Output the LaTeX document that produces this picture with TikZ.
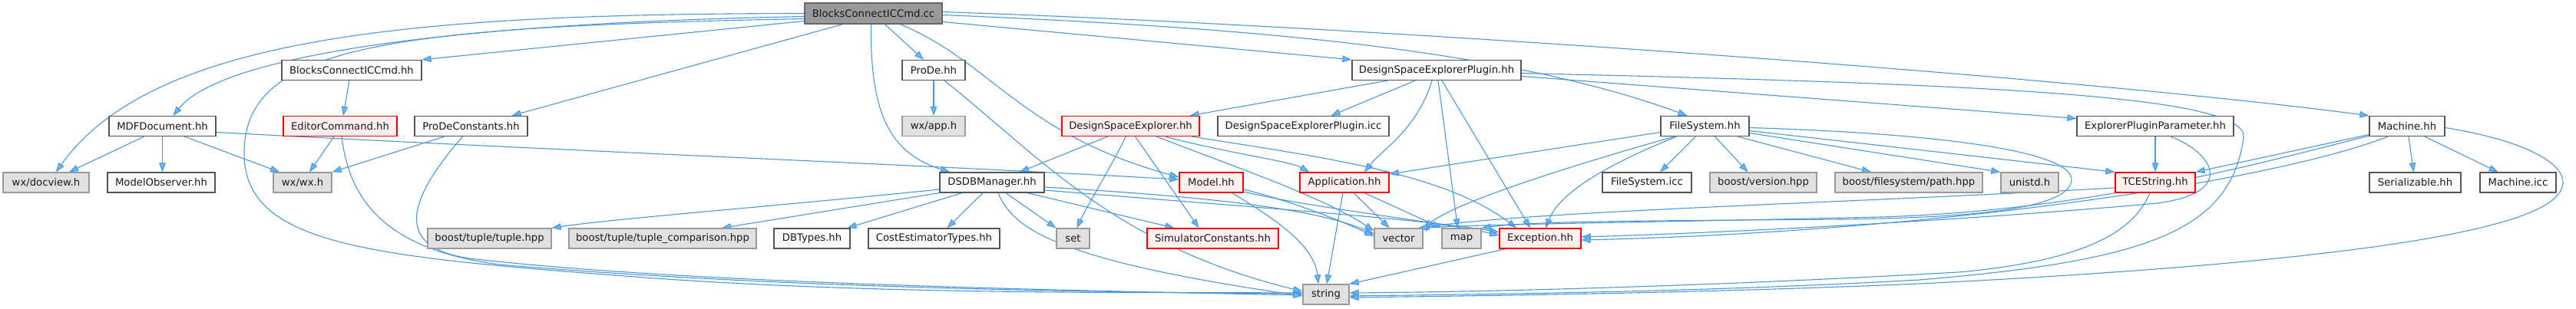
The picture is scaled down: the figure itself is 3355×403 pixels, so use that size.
\documentclass[tikz,border=0pt]{standalone}
\usepackage{fontspec}
\setmainfont{DejaVu Sans}
\usetikzlibrary{arrows.meta,backgrounds}
\definecolor{edgec}{HTML}{4A98DC}
\definecolor{arrowc}{HTML}{63B8FF}
\definecolor{wfill}{HTML}{FAFCFA}
\definecolor{wdraw}{HTML}{555555}
\definecolor{gfill}{HTML}{E0E0E0}
\definecolor{gdraw}{HTML}{999999}
\definecolor{rfill}{HTML}{FFF0F0}
\definecolor{rdraw}{HTML}{FF0000}
\definecolor{rootfill}{HTML}{999999}
\definecolor{rootdraw}{HTML}{666666}
\begin{document}
\begin{tikzpicture}[x=1pt,y=-1pt,
  nd/.style={draw=wdraw,fill=wfill,line width=1.3pt,minimum height=26pt,inner sep=0pt,
    font=\fontsize{13.2}{15}\selectfont,text=black!90},
  ndext/.style={nd,draw=gdraw,fill=gfill},
  ndtr/.style={nd,draw=rdraw,fill=rfill},
  ndroot/.style={nd,draw=rootdraw,fill=rootfill,minimum height=27pt},
  dep/.style={draw=edgec,line width=1.1pt,-{Triangle[length=12pt,width=8.5pt,fill=arrowc]}}
]
\path[use as bounding box] (0,0) rectangle (3355,403);
% nodes
\node[ndroot,minimum width=179pt] (root) at (1137.5,17.5) {BlocksConnectICCmd.cc};
\node[nd,minimum width=182pt] (bcH) at (458,91.5) {BlocksConnectICCmd.hh};
\node[nd,minimum width=82pt] (prode) at (1216,91.5) {ProDe.hh};
\node[nd,minimum width=220pt] (dsep) at (1871,91.5) {DesignSpaceExplorerPlugin.hh};
\node[nd,minimum width=139pt] (mdf) at (211.5,164.5) {MDFDocument.hh};
\node[ndtr,minimum width=148pt] (edcmd) at (443,164.5) {EditorCommand.hh};
\node[nd,minimum width=147pt] (pdc) at (613.5,164.5) {ProDeConstants.hh};
\node[ndext,minimum width=82pt] (wxapp) at (1216,164.5) {wx/app.h};
\node[ndtr,minimum width=179pt] (dse) at (1472.5,164.5) {DesignSpaceExplorer.hh};
\node[nd,minimum width=223pt] (dsepicc) at (1697.5,164.5) {DesignSpaceExplorerPlugin.icc};
\node[nd,minimum width=115pt] (fs) at (2220.5,164.5) {FileSystem.hh};
\node[nd,minimum width=204pt] (epp) at (2807,164.5) {ExplorerPluginParameter.hh};
\node[nd,minimum width=98pt] (mach) at (3135,164.5) {Machine.hh};
\node[ndext,minimum width=112pt] (docview) at (60,238) {wx/docview.h};
\node[nd,minimum width=140pt] (mobs) at (210,238) {ModelObserver.hh};
\node[ndext,minimum width=76pt] (wxwx) at (394,238) {wx/wx.h};
\node[nd,minimum width=136pt] (dsdb) at (1292,238) {DSDBManager.hh};
\node[ndtr,minimum width=83pt] (model) at (1577.5,238) {Model.hh};
\node[ndtr,minimum width=116pt] (app) at (1751,238) {Application.hh};
\node[nd,minimum width=116pt] (fsicc) at (2145,238) {FileSystem.icc};
\node[ndext,minimum width=139pt] (bver) at (2296.5,238) {boost/version.hpp};
\node[ndext,minimum width=192pt] (bpath) at (2486,238) {boost/filesystem/path.hpp};
\node[ndext,minimum width=75pt] (unistd) at (2643.5,238) {unistd.h};
\node[ndtr,minimum width=104pt] (tces) at (2807,238) {TCEString.hh};
\node[nd,minimum width=119pt] (ser) at (3145.5,238) {Serializable.hh};
\node[nd,minimum width=99pt] (micc) at (3279.5,238) {Machine.icc};
\node[ndext,minimum width=161pt] (btuple) at (637.5,311) {boost/tuple/tuple.hpp};
\node[ndext,minimum width=244pt] (btcomp) at (863,311) {boost/tuple/tuple\_comparison.hpp};
\node[nd,minimum width=99pt] (dbt) at (1057.5,311) {DBTypes.hh};
\node[nd,minimum width=171pt] (cet) at (1216.5,311) {CostEstimatorTypes.hh};
\node[ndext,minimum width=43pt] (set) at (1397.5,311) {set};
\node[ndtr,minimum width=171pt] (simc) at (1579.5,311) {SimulatorConstants.hh};
\node[ndext,minimum width=63pt] (vec) at (1821.5,311) {vector};
\node[ndext,minimum width=51pt] (map) at (1903.5,311) {map};
\node[ndtr,minimum width=106pt] (exc) at (2006,311) {Exception.hh};
\node[ndext,minimum width=60pt] (str) at (1727,384) {string};

\begin{pgfonlayer}{background}
\fill[white] (0,0) rectangle (3355,403);
% root
\draw[dep] (root.west) .. controls (550,18) and (200,45) .. ([xshift=13pt]docview.north);
\draw[dep] ([yshift=-4pt]root.west) .. controls (600,30) and (290,70) .. ([xshift=14pt]mdf.north);
\draw[dep] ([yshift=-7pt]root.west) .. controls (500,35) and (318,60) .. (318,200) .. controls (318,320) and (480,335) .. (840,362) .. controls (1150,385) and (1500,381) .. ([yshift=2pt]str.west);
\draw[dep] ([yshift=-10pt]root.west) -- (bcH.north east);
\draw[dep] ([xshift=-40pt]root.south) -- ([xshift=53pt]pdc.north);
\draw[dep] ([xshift=-3pt]root.south) .. controls (1133,150) and (1160,200) .. ([xshift=-55pt]dsdb.north);
\draw[dep] ([xshift=15pt]root.south) -- ([xshift=-13pt]prode.north);
\draw[dep] ([xshift=35pt]root.south) .. controls (1290,80) and (1330,175) .. ([yshift=7pt]model.west);
\draw[dep] ([yshift=-11pt]root.east) -- (dsep.north west);
\draw[dep] ([yshift=-2pt]root.east) .. controls (1600,35) and (1950,60) .. ([xshift=-23pt]fs.north);
\draw[dep] ([yshift=2pt]root.east) .. controls (1800,35) and (2700,100) .. (mach.north west);
% BlocksConnectICCmd.hh
\draw[dep] ([xshift=-3pt]bcH.south) -- ([xshift=4pt]edcmd.north);
% EditorCommand
\draw[dep] ([xshift=-8pt]edcmd.south) -- ([xshift=9pt]wxwx.north);
\draw[dep] ([xshift=2pt]edcmd.south) .. controls (455,260) and (500,325) .. (650,345) .. controls (1000,375) and (1400,381) .. ([yshift=1pt]str.west);
% MDFDocument
\draw[dep] ([xshift=-24pt]mdf.south) -- ([xshift=30pt]docview.north);
\draw[dep] (mdf.south) -- (mdf.south |- mobs.north);
\draw[dep] ([xshift=29pt]mdf.south) -- ([xshift=-30pt]wxwx.north);
\draw[dep] ([yshift=-8pt]mdf.east) .. controls (700,195) and (1200,215) .. ([yshift=4pt]model.west);
% ProDeConstants
\draw[dep] ([xshift=-35pt]pdc.south) -- (wxwx.north east);
\draw[dep] ([xshift=-11pt]pdc.south) .. controls (540,250) and (500,325) .. (620,338) .. controls (900,370) and (1400,379) .. ([yshift=-1pt]str.west);
% ProDe
\draw[dep] (prode.south) -- (wxapp.north);
\draw[dep] ([xshift=14pt]prode.south) .. controls (1350,200) and (1450,320) .. ([yshift=4pt]str.west);
% DSDBManager
\draw[dep] ([yshift=-9pt]dsdb.west) .. controls (1000,270) and (800,285) .. (btuple.north east);
\draw[dep] (dsdb.south west) -- ([xshift=77pt]btcomp.north);
\draw[dep] ([xshift=-39pt]dsdb.south) -- ([xshift=46pt]dbt.north);
\draw[dep] ([xshift=-12pt]dsdb.south) -- ([xshift=17pt]cet.north);
\draw[dep] ([xshift=18pt]dsdb.south) -- (set.north west);
\draw[dep] ([xshift=46pt]dsdb.south) -- ([xshift=-50pt]simc.north);
\draw[dep] ([xshift=8pt]dsdb.south) .. controls (1320,300) and (1380,340) .. ([yshift=-2pt]str.west);
\draw[dep] ([yshift=-6pt]dsdb.east) .. controls (1600,258) and (1720,275) .. ([yshift=6pt]vec.west);
\draw[dep] ([yshift=-10pt]dsdb.east) .. controls (1600,268) and (1850,285) .. ([yshift=8pt]exc.west);
% DesignSpaceExplorer
\draw[dep] ([xshift=-30pt]dse.south) -- ([xshift=36pt]dsdb.north);
\draw[dep] ([xshift=-6pt]dse.south) .. controls (1440,230) and (1415,270) .. ([xshift=5pt]set.north);
\draw[dep] ([xshift=6pt]dse.south) -- ([xshift=-18pt]simc.north);
\draw[dep] ([xshift=80pt]dse.south) .. controls (1720,205) and (1880,225) .. ([xshift=-31pt]exc.north);
\draw[dep] ([xshift=45pt]dse.south) .. controls (1600,200) and (1680,210) .. ([xshift=-46pt]app.north);
\draw[dep] ([xshift=34pt]dse.south) .. controls (1600,215) and (1720,255) .. ([yshift=10pt]vec.west);
% Model
\draw[dep] ([yshift=-9pt]model.east) .. controls (1680,262) and (1740,285) .. ([yshift=3pt]vec.west);
\draw[dep] ([yshift=-12pt]model.east) .. controls (1700,270) and (1880,290) .. ([yshift=4pt]exc.west);
\draw[dep] ([xshift=27pt]model.south) .. controls (1660,285) and (1712,320) .. ([xshift=-10pt]str.north);
% Application
\draw[dep] ([xshift=-2pt]app.south) -- ([xshift=1pt]str.north);
\draw[dep] ([xshift=12pt]app.south) -- ([xshift=-12pt]vec.north);
\draw[dep] ([xshift=26pt]app.south) -- (map.north west);
% DesignSpaceExplorerPlugin
\draw[dep] ([xshift=-64pt]dsep.south) -- ([xshift=77pt]dse.north);
\draw[dep] ([xshift=-28pt]dsep.south) -- ([xshift=36pt]dsepicc.north);
\draw[dep] ([xshift=-6pt]dsep.south) .. controls (1845,170) and (1800,195) .. ([xshift=26pt]app.north);
\draw[dep] ([xshift=2pt]dsep.south) -- ([xshift=-5pt]map.north);
\draw[dep] ([xshift=7pt]dsep.south) -- ([xshift=-13pt]exc.north);
\draw[dep] ([yshift=-8pt]dsep.east) -- ([yshift=10pt]epp.west);
\draw[dep] ([yshift=-4pt]dsep.east) .. controls (2600,110) and (2930,125) .. (2922,180) .. controls (2905,300) and (2800,340) .. (2500,365) .. controls (2200,382) and (1900,384) .. ([yshift=-2pt]str.east);
% FileSystem
\draw[dep] ([yshift=-8pt]fs.west) -- ([yshift=11pt]app.east);
\draw[dep] ([xshift=-40pt]fs.south) .. controls (2050,215) and (1900,262) .. (vec.north east);
\draw[dep] ([xshift=-37pt]fs.south) .. controls (2080,220) and (2030,255) .. ([xshift=7pt]exc.north);
\draw[dep] ([xshift=-12pt]fs.south) -- ([xshift=17pt]fsicc.north);
\draw[dep] ([xshift=13pt]fs.south) -- ([xshift=-20pt]bver.north);
\draw[dep] ([xshift=43pt]fs.south) -- ([xshift=-49pt]bpath.north);
\draw[dep] ([yshift=-9pt]fs.east) -- (unistd.north west);
\draw[dep] ([yshift=-6pt]fs.east) -- (tces.north west);
\draw[dep] ([yshift=-2pt]fs.east) .. controls (2550,175) and (2700,200) .. (2698,235) .. controls (2695,275) and (2550,284) .. (2400,286) .. controls (2150,288) and (2000,288) .. (map.north east);
% ExplorerPluginParameter
\draw[dep] (epp.south) -- (tces.north);
\draw[dep] ([xshift=20pt]epp.south) .. controls (2885,200) and (2915,255) .. (2800,266) .. controls (2500,292) and (2200,305) .. ([yshift=2pt]exc.east);
% TCEString
\draw[dep] ([xshift=-7pt]tces.south) .. controls (2780,300) and (2720,340) .. (2550,355) .. controls (2200,375) and (1900,381) .. ([yshift=2pt]str.east);
\draw[dep] ([yshift=-7pt]tces.west) .. controls (2400,265) and (2000,275) .. ([xshift=-4pt]vec.north east);
% Machine
\draw[dep] ([xshift=2pt]mach.south) -- ([xshift=-2pt]ser.north);
\draw[dep] ([xshift=23pt]mach.south) -- ([xshift=-26pt]micc.north);
\draw[dep] ([yshift=-11pt]mach.west) -- (tces.north east);
\draw[dep] ([yshift=-12.5pt]mach.west) .. controls (2900,225) and (2700,275) .. (2450,283) .. controls (2150,290) and (1950,292) .. ([xshift=-7pt]vec.north east);
\draw[dep] ([xshift=-25pt]mach.south) .. controls (2950,240) and (2500,303) .. ([yshift=-2pt]exc.east);
\draw[dep] ([yshift=-2pt]mach.east) .. controls (3330,190) and (3380,240) .. (3300,275) .. controls (3200,320) and (2900,350) .. (2500,370) .. controls (2200,383) and (1900,386) .. ([yshift=-4pt]str.east);
% Exception
\draw[dep] ([xshift=-45pt]exc.south) -- (str.north east);
\end{pgfonlayer}
\end{tikzpicture}
\end{document}
